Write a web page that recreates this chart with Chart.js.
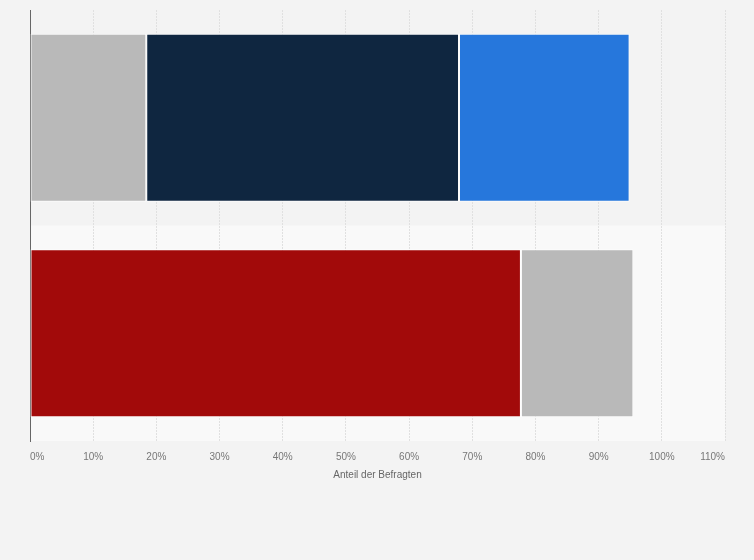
<!DOCTYPE html>
<html>
<head>
<meta charset="utf-8">
<script src="https://cdn.jsdelivr.net/npm/chart.js@4/dist/chart.umd.min.js"></script>
<style>
  html, body { margin: 0; padding: 0; background: #f3f3f3; }
  #wrap { width: 754px; height: 560px; }
</style>
</head>
<body>
<div id="wrap"><canvas id="chart" width="754" height="560"></canvas></div>
<script>
// two survey rows, stacked segments (values in %)
const categories = ["Frage 1", "Frage 2"];
const segmentA = [18.4, 77.7];
const segmentB = [49.5, 17.8];
const segmentC = [27.0, null];
const colorsA = ["#b9b9b9", "#a20a0a"];
const colorsB = ["#0f2640", "#b9b9b9"];
const colorsC = ["#2677dc", "#2677dc"];
const xTicks = [0, 10, 20, 30, 40, 50, 60, 70, 80, 90, 100, 110];

const bandColors = ["#f3f3f3", "#f9f9f9"];

const bands = {
  id: "bands",
  beforeDraw(chart) {
    const { ctx, chartArea, scales } = chart;
    ctx.save();
    ctx.fillStyle = "#f3f3f3";
    ctx.fillRect(0, 0, chart.width, chart.height);
    const y = scales.y;
    const step = (chartArea.bottom - chartArea.top) / categories.length;
    categories.forEach((_, i) => {
      const c = y.getPixelForValue(i);
      ctx.fillStyle = bandColors[i % 2];
      ctx.fillRect(chartArea.left, c - step / 2, chartArea.right - chartArea.left, step);
    });
    ctx.restore();
  }
};

const ds = (label, data, colors) => ({
  label,
  data,
  backgroundColor: colors,
  borderColor: "rgba(255,255,255,0.7)",
  borderWidth: 1,
  borderSkipped: false,
  barPercentage: 1,
  categoryPercentage: 0.78
});

new Chart(document.getElementById("chart"), {
  type: "bar",
  data: {
    labels: categories,
    datasets: [
      ds("A", segmentA, colorsA),
      ds("B", segmentB, colorsB),
      ds("C", segmentC, colorsC)
    ]
  },
  options: {
    indexAxis: "y",
    responsive: false,
    animation: false,
    layout: { padding: { left: 22, right: 29, top: 10, bottom: 75 } },
    plugins: { legend: { display: false }, tooltip: { enabled: false } },
    scales: {
      x: {
        stacked: true,
        min: 0,
        max: 110,
        afterBuildTicks(scale) {
          scale.ticks = xTicks.map(v => ({ value: v }));
        },
        grid: { color: "#e0e0e0", drawTicks: false },
        border: { display: false, dash: [2, 1] },
        ticks: {
          align: "inner",
          padding: 10,
          color: "#777",
          font: { family: "Liberation Sans, Arial, sans-serif", size: 10 },
          callback: v => v + "%"
        },
        title: {
          display: true,
          text: "Anteil der Befragten",
          color: "#666",
          font: { family: "Liberation Sans, Arial, sans-serif", size: 10 },
          padding: { top: -4 }
        }
      },
      y: {
        stacked: true,
        grid: { display: false },
        border: { display: true, color: "#666", width: 1 },
        ticks: { display: false }
      }
    }
  },
  plugins: [bands]
});
</script>
</body>
</html>
